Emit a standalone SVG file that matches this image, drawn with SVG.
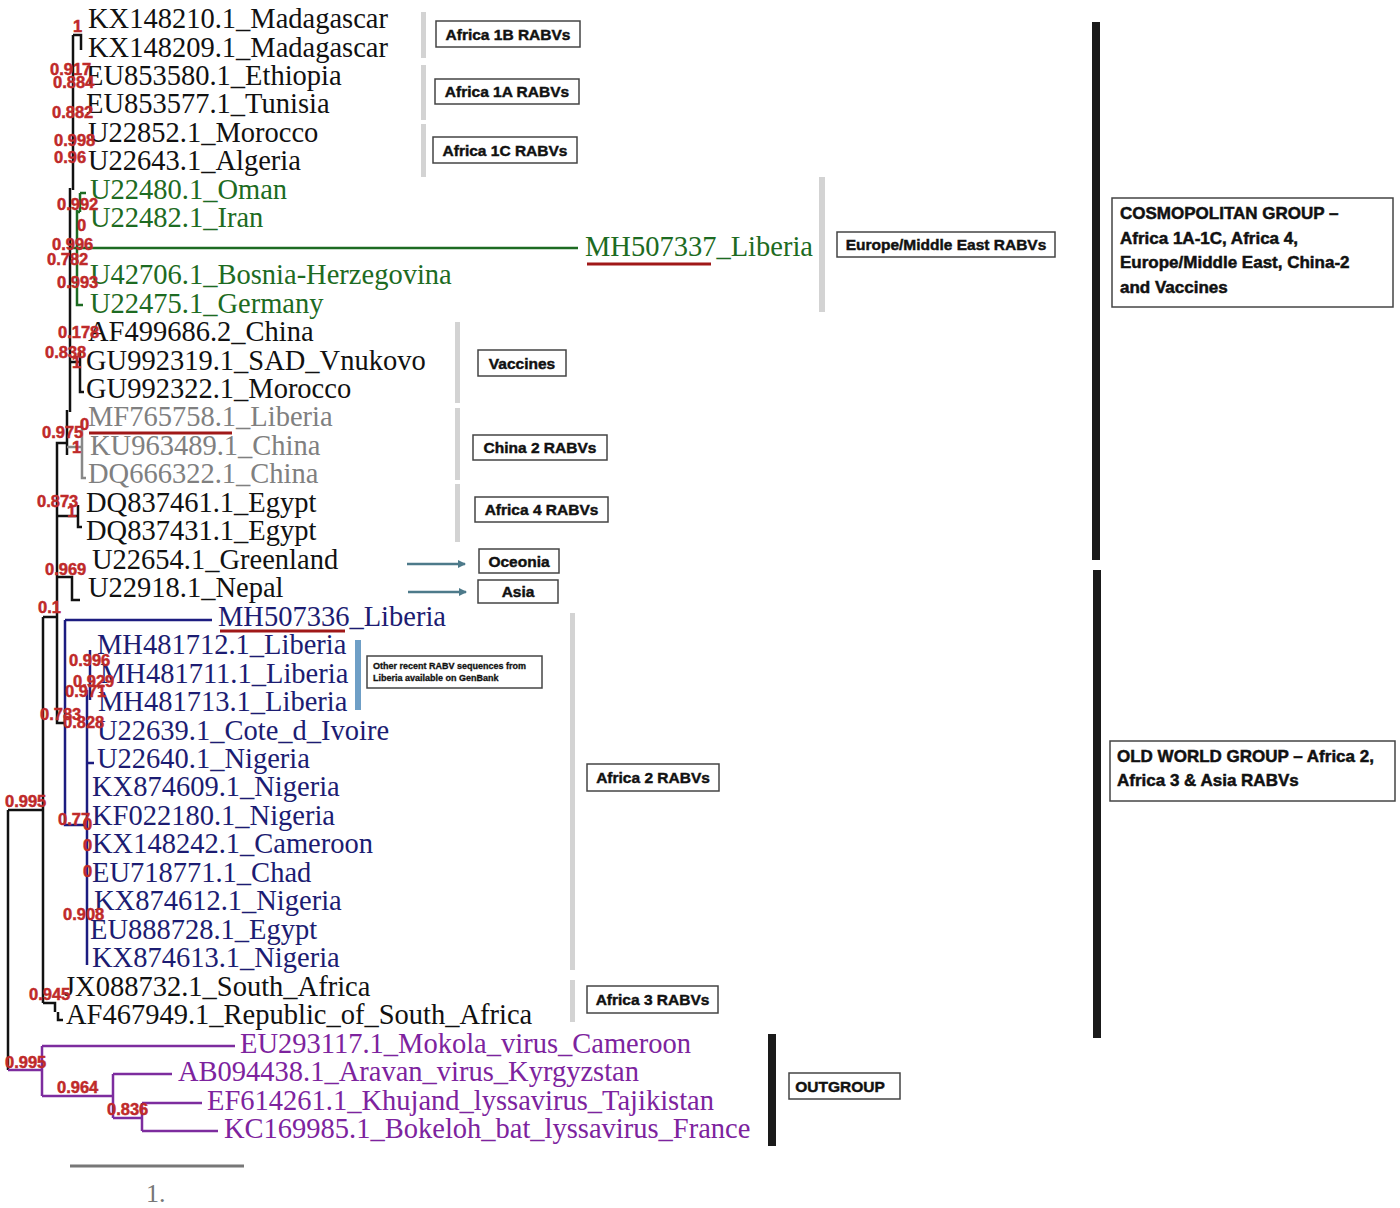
<svg xmlns="http://www.w3.org/2000/svg" width="1400" height="1208" viewBox="0 0 1400 1208">
<style>
.lf{font-family:"Liberation Serif","Times New Roman",serif;font-size:28.5px}
.k{fill:#111}.g{fill:#1d6b22}.gy{fill:#808080}.n{fill:#1c1c72}.p{fill:#7d239e}
.bs{font-family:"Liberation Sans",Arial,sans-serif;font-weight:bold;font-size:16.5px;fill:#bf2a2a;stroke:#bf2a2a;stroke-width:0.5}
.bx rect{fill:#fff;stroke:#444;stroke-width:1.5}
.bx text{font-family:"Liberation Sans",Arial,sans-serif;font-weight:bold;font-size:15.5px;fill:#111;stroke:#111;stroke-width:0.45;text-anchor:middle}
.big text{font-family:"Liberation Sans",Arial,sans-serif;font-weight:bold;font-size:17px;fill:#111;stroke:#111;stroke-width:0.5}
.sep{fill:#d3d3d3}
.bar{fill:#1a1a1a}
.kl{stroke:#111;fill:none;stroke-width:2.5}
.gl{stroke:#1d6b22;fill:none;stroke-width:2.5}
.gyl{stroke:#888;fill:none;stroke-width:2.5}
.nl{stroke:#1c1c80;fill:none;stroke-width:2.5}
.pl{stroke:#7d2c9e;fill:none;stroke-width:2.5}
.ul{stroke:#a01818;stroke-width:3}
.ar{stroke:#4d7a8a;stroke-width:2.5;marker-end:url(#ah)}
</style>
<defs>
<marker id="ah" markerWidth="8" markerHeight="8" refX="7" refY="4" orient="auto" markerUnits="userSpaceOnUse"><path d="M0,0 L8,4 L0,8 Z" fill="#4d7a8a"/></marker>
</defs>
<rect width="1400" height="1208" fill="#fff"/>

<g id="connectors">
<path class="kl" stroke-width="5" d="M73,35 V190"/>
<path class="kl" stroke-width="4.5" d="M70,188 V412"/>
<path class="kl" stroke-width="4" d="M67,410 V455"/>
<path class="kl" d="M73,35 H81 V50"/>
<path class="gl" d="M80,193 H86 M80,193 V212 M77,210 V305 H83 M77,212 H80"/>
<path class="gl" d="M70,248 H578"/>
<path class="kl" d="M69,362 H80 M80,350 V392 H84"/>
<path class="gyl" d="M67,447 H82 M82,420 V478 H86"/>
<path class="kl" d="M67,443 H57 V723 H65"/>
<path class="kl" d="M57,516 H78 M78,505 V527 H82"/>
<path class="kl" d="M57,577 H72 V600 H80"/>
<path class="kl" d="M43,617 H57"/>
<path class="kl" d="M43,617 V1003"/>
<path class="kl" d="M8,810 H43 M8,810 V1070"/>
<path class="kl" d="M43,1003 H55 V1012 M58,1012 V1020 H63"/>
<path class="nl" d="M65,620 H212 M65,620 V825 H85"/>
<path class="nl" stroke-width="2" d="M90,650 V700"/>
<path class="nl" stroke-width="4" d="M87,690 V940"/>
<path class="nl" stroke-width="2" d="M87,940 V965 M87,763 H94"/>
<path class="pl" d="M8,1070 H42 M42,1046 V1096 M42,1046 H235 M42,1096 H113 M113,1074 V1118 M113,1074 H172 M113,1118 H142 M142,1103 V1131 M142,1103 H202 M142,1131 H218"/>
<path stroke="#777" stroke-width="3" d="M70,1166 H244"/>
<path class="ar" d="M407,564 H465"/>
<path class="ar" d="M408,592 H466"/>
</g>

<g id="leaves" class="lf">
<g id="leaf1"><text class="k" x="88" y="28">KX148210.1_Madagascar</text></g>
<g id="leaf2"><text class="k" x="88" y="56.5">KX148209.1_Madagascar</text></g>
<g id="leaf3"><text class="k" x="86" y="84.9">EU853580.1_Ethiopia</text></g>
<g id="leaf4"><text class="k" x="86" y="113.4">EU853577.1_Tunisia</text></g>
<g id="leaf5"><text class="k" x="88" y="141.8">U22852.1_Morocco</text></g>
<g id="leaf6"><text class="k" x="88" y="170.3">U22643.1_Algeria</text></g>
<g id="leaf7"><text class="g" x="90" y="198.8">U22480.1_Oman</text></g>
<g id="leaf8"><text class="g" x="90" y="227.2">U22482.1_Iran</text></g>
<g id="leaf9"><text class="g" x="585" y="255.7">MH507337_Liberia</text></g>
<g id="leaf10"><text class="g" x="90" y="284.1">U42706.1_Bosnia-Herzegovina</text></g>
<g id="leaf11"><text class="g" x="90" y="312.6">U22475.1_Germany</text></g>
<g id="leaf12"><text class="k" x="88" y="341.1">AF499686.2_China</text></g>
<g id="leaf13"><text class="k" x="86" y="369.5">GU992319.1_SAD_Vnukovo</text></g>
<g id="leaf14"><text class="k" x="86" y="398">GU992322.1_Morocco</text></g>
<g id="leaf15"><text class="gy" x="88" y="426.4">MF765758.1_Liberia</text></g>
<g id="leaf16"><text class="gy" x="90" y="454.9">KU963489.1_China</text></g>
<g id="leaf17"><text class="gy" x="88" y="483.4">DQ666322.1_China</text></g>
<g id="leaf18"><text class="k" x="86" y="511.8">DQ837461.1_Egypt</text></g>
<g id="leaf19"><text class="k" x="86" y="540.3">DQ837431.1_Egypt</text></g>
<g id="leaf20"><text class="k" x="92" y="568.7">U22654.1_Greenland</text></g>
<g id="leaf21"><text class="k" x="88" y="597.2">U22918.1_Nepal</text></g>
<g id="leaf22"><text class="n" x="218" y="625.7">MH507336_Liberia</text></g>
<g id="leaf23"><text class="n" x="97" y="654.1">MH481712.1_Liberia</text></g>
<g id="leaf24"><text class="n" x="100" y="682.6">MH481711.1_Liberia</text></g>
<g id="leaf25"><text class="n" x="98" y="711">MH481713.1_Liberia</text></g>
<g id="leaf26"><text class="n" x="97" y="739.5">U22639.1_Cote_d_Ivoire</text></g>
<g id="leaf27"><text class="n" x="97" y="768">U22640.1_Nigeria</text></g>
<g id="leaf28"><text class="n" x="92" y="796.4">KX874609.1_Nigeria</text></g>
<g id="leaf29"><text class="n" x="92" y="824.9">KF022180.1_Nigeria</text></g>
<g id="leaf30"><text class="n" x="92" y="853.3">KX148242.1_Cameroon</text></g>
<g id="leaf31"><text class="n" x="92" y="881.8">EU718771.1_Chad</text></g>
<g id="leaf32"><text class="n" x="94" y="910.3">KX874612.1_Nigeria</text></g>
<g id="leaf33"><text class="n" x="90" y="938.7">EU888728.1_Egypt</text></g>
<g id="leaf34"><text class="n" x="92" y="967.2">KX874613.1_Nigeria</text></g>
<g id="leaf35"><text class="k" x="64" y="995.6">JX088732.1_South_Africa</text></g>
<g id="leaf36"><text class="k" x="66" y="1024.1">AF467949.1_Republic_of_South_Africa</text></g>
<g id="leaf37"><text class="p" x="240" y="1052.6">EU293117.1_Mokola_virus_Cameroon</text></g>
<g id="leaf38"><text class="p" x="178" y="1081">AB094438.1_Aravan_virus_Kyrgyzstan</text></g>
<g id="leaf39"><text class="p" x="207" y="1109.5">EF614261.1_Khujand_lyssavirus_Tajikistan</text></g>
<g id="leaf40"><text class="p" x="224" y="1137.9">KC169985.1_Bokeloh_bat_lyssavirus_France</text></g>
<g id="scale"><text x="146" y="1202" fill="#777" font-size="26">1.</text></g>
</g>

<g id="underlines">
<path class="ul" d="M587,264 H711"/>
<path class="ul" d="M220,631 H345"/>
<path class="ul" d="M89,433 H232"/>
</g>

<g id="support" class="bs">
<text x="73" y="32">1</text>
<text x="50" y="75">0.917</text>
<text x="53" y="88">0.884</text>
<text x="52" y="118">0.882</text>
<text x="54" y="146">0.998</text>
<text x="54" y="163">0.96</text>
<text x="57" y="210">0.992</text>
<text x="77" y="231">0</text>
<text x="52" y="250">0.996</text>
<text x="47" y="265">0.782</text>
<text x="57" y="288">0.993</text>
<text x="58" y="338">0.178</text>
<text x="45" y="358">0.838</text>
<text x="72" y="368">1</text>
<text x="80" y="430">0</text>
<text x="42" y="438">0.975</text>
<text x="72" y="453">1</text>
<text x="37" y="507">0.873</text>
<text x="67" y="517">1</text>
<text x="45" y="575">0.969</text>
<text x="38" y="613">0.1</text>
<text x="69" y="666">0.996</text>
<text x="73" y="687">0.929</text>
<text x="65" y="697">0.971</text>
<text x="40" y="720">0.783</text>
<text x="63" y="728">0.828</text>
<text x="5" y="807">0.995</text>
<text x="58" y="825">0.77</text>
<text x="83" y="830">0</text>
<text x="83" y="851">0</text>
<text x="83" y="877">0</text>
<text x="63" y="920">0.908</text>
<text x="29" y="1000">0.945</text>
<text x="5" y="1068">0.995</text>
<text x="57" y="1093">0.964</text>
<text x="107" y="1115">0.836</text>
</g>

<g id="separators">
<rect class="sep" x="421" y="12" width="5" height="46"/>
<rect class="sep" x="421" y="65" width="5" height="55"/>
<rect class="sep" x="421" y="124" width="5" height="53"/>
<rect class="sep" x="819" y="177" width="6" height="135"/>
<rect class="sep" x="455" y="322" width="5" height="81"/>
<rect class="sep" x="455" y="408" width="5" height="72"/>
<rect class="sep" x="455" y="484" width="5" height="58"/>
<rect class="sep" x="570" y="613" width="5" height="357"/>
<rect class="sep" x="570" y="980" width="5" height="42"/>
<rect x="355" y="640" width="6" height="70" fill="#6f9fc6"/>
<rect class="bar" x="1092" y="22" width="8" height="538"/>
<rect class="bar" x="1093" y="570" width="8" height="468"/>
<rect class="bar" x="768" y="1034" width="8" height="112"/>
</g>

<g id="box-africa1b" class="bx"><rect x="436" y="21" width="144" height="26"/><text x="508" y="39.5">Africa 1B RABVs</text></g>
<g id="box-africa1a" class="bx"><rect x="435" y="79" width="144" height="25"/><text x="507" y="97">Africa 1A RABVs</text></g>
<g id="box-africa1c" class="bx"><rect x="433" y="137" width="144" height="26"/><text x="505" y="155.5">Africa 1C RABVs</text></g>
<g id="box-europe" class="bx"><rect x="837" y="232" width="218" height="25"/><text x="946" y="250">Europe/Middle East RABVs</text></g>
<g id="box-vaccines" class="bx"><rect x="478" y="350" width="88" height="26"/><text x="522" y="368.5">Vaccines</text></g>
<g id="box-china2" class="bx"><rect x="473" y="435" width="134" height="25"/><text x="540" y="453">China 2 RABVs</text></g>
<g id="box-africa4" class="bx"><rect x="475" y="497" width="133" height="25"/><text x="541.5" y="515">Africa 4 RABVs</text></g>
<g id="box-oceonia" class="bx"><rect x="479" y="549" width="80" height="24"/><text x="519" y="566.5">Oceonia</text></g>
<g id="box-asia" class="bx"><rect x="478" y="580" width="80" height="23"/><text x="518" y="597">Asia</text></g>
<g id="box-liberia" class="bx"><rect x="367" y="656" width="175" height="32"/>
<text x="373" y="669" style="font-size:9px;text-anchor:start;stroke-width:0.3">Other recent RABV sequences from</text>
<text x="373" y="681" style="font-size:9px;text-anchor:start;stroke-width:0.3">Liberia available on GenBank</text></g>
<g id="box-africa2" class="bx"><rect x="587" y="764" width="132" height="27"/><text x="653" y="783">Africa 2 RABVs</text></g>
<g id="box-africa3" class="bx"><rect x="587" y="986" width="131" height="27"/><text x="652.5" y="1005">Africa 3 RABVs</text></g>
<g id="box-outgroup" class="bx"><rect x="789" y="1073" width="111" height="26"/><text x="840" y="1091.5">OUTGROUP</text></g>
<g id="box-cosmopolitan" class="bx big"><rect x="1112" y="198" width="281" height="109"/>
<text x="1120" y="219" style="text-anchor:start">COSMOPOLITAN GROUP –</text>
<text x="1120" y="244" style="text-anchor:start">Africa 1A-1C, Africa 4,</text>
<text x="1120" y="268" style="text-anchor:start">Europe/Middle East, China-2</text>
<text x="1120" y="293" style="text-anchor:start">and Vaccines</text></g>
<g id="box-oldworld" class="bx big"><rect x="1110" y="741" width="285" height="60"/>
<text x="1117" y="762" style="text-anchor:start">OLD WORLD GROUP – Africa 2,</text>
<text x="1117" y="786" style="text-anchor:start">Africa 3 &amp; Asia RABVs</text></g>
</svg>
